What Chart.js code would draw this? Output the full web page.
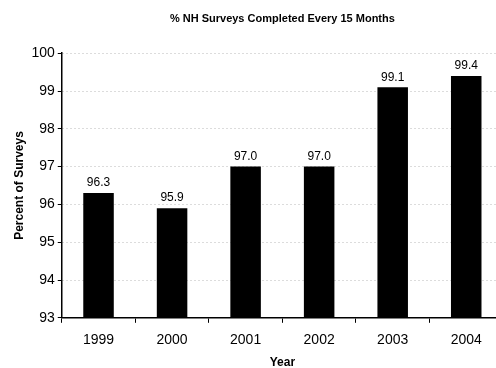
<!DOCTYPE html>
<html>
<head>
<meta charset="utf-8">
<script src="https://cdn.jsdelivr.net/npm/chart.js@4/dist/chart.umd.min.js"></script>
<style>
  html, body { margin: 0; padding: 0; background: #fff; overflow: hidden; }
  #wrap { width: 496px; height: 368px; overflow: hidden; }
  canvas { display: block; }
</style>
</head>
<body>
<div id="wrap"><canvas id="c" width="503" height="370"></canvas></div>
<script>
const years = ['1999', '2000', '2001', '2002', '2003', '2004'];
const percentCompleted = [96.3, 95.9, 97.0, 97.0, 99.1, 99.4];
const yTicks = [93, 94, 95, 96, 97, 98, 99, 100];

const FONT = '"Liberation Sans", Arial, sans-serif';

// Writes each bar's value just above its top
const valueLabels = {
  id: 'valueLabels',
  afterDatasetsDraw(chart) {
    const ctx = chart.ctx;
    const meta = chart.getDatasetMeta(0);
    ctx.save();
    ctx.font = '12px ' + FONT;
    ctx.fillStyle = '#000';
    ctx.textAlign = 'center';
    ctx.textBaseline = 'bottom';
    meta.data.forEach((bar, i) => {
      ctx.fillText(percentCompleted[i].toFixed(1), bar.x, bar.y - 4);
    });
    ctx.restore();
  }
};

new Chart(document.getElementById('c'), {
  type: 'bar',
  data: {
    labels: years,
    datasets: [{
      data: percentCompleted,
      backgroundColor: '#000',
      borderColor: '#000',
      borderWidth: 0,
      barPercentage: 0.415,
      categoryPercentage: 1.0
    }]
  },
  options: {
    responsive: false,
    animation: false,
    devicePixelRatio: 1,
    layout: { padding: { left: 12, right: 0, top: 4, bottom: 0 } },
    plugins: {
      legend: { display: false },
      tooltip: { enabled: false },
      title: {
        display: true,
        fullSize: false,
        text: '% NH Surveys Completed Every 15 Months',
        color: '#000',
        font: { family: FONT, size: 11, weight: 'bold' },
        padding: { top: 8, bottom: 28 }
      }
    },
    scales: {
      x: {
        offset: true,
        grid: {
          offset: true,
          drawOnChartArea: false,
          drawTicks: true,
          tickLength: 5,
          tickColor: '#000',
          lineWidth: 1
        },
        border: { display: true, color: '#000', width: 1.5 },
        ticks: {
          color: '#000',
          font: { family: FONT, size: 14 },
          padding: 9
        },
        title: {
          display: true,
          text: 'Year',
          color: '#000',
          font: { family: FONT, size: 12, weight: 'bold' },
          padding: { top: -2, bottom: 0 }
        }
      },
      y: {
        min: 93,
        max: 100,
        afterBuildTicks(axis) {
          axis.ticks = yTicks.map(v => ({ value: v }));
        },
        grid: {
          color: '#b8b8b8',
          lineWidth: 1,
          drawTicks: true,
          tickLength: 4,
          tickColor: '#000',
          tickBorderDash: []
        },
        border: { display: true, color: '#000', width: 1.5, dash: [1, 3] },
        ticks: {
          color: '#000',
          font: { family: FONT, size: 14 },
          padding: 3
        },
        title: {
          display: true,
          text: 'Percent of Surveys',
          color: '#000',
          font: { family: FONT, size: 12, weight: 'bold' },
          padding: { top: 0, bottom: 2 }
        }
      }
    }
  },
  plugins: [valueLabels]
});
</script>
</body>
</html>
